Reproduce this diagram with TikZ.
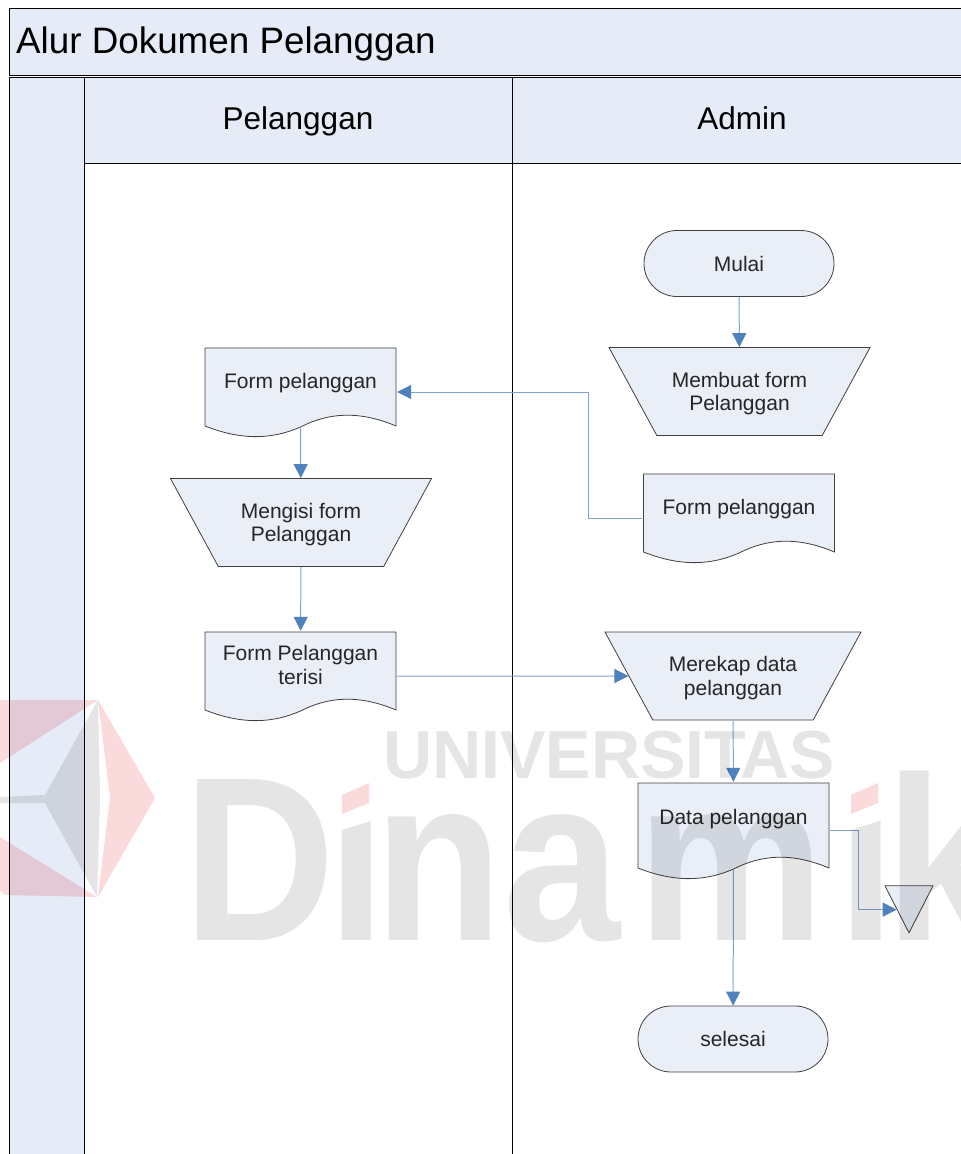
\documentclass[tikz,border=0pt]{standalone}
\usepackage{fontspec}
\setmainfont{Liberation Sans}
\newfontfamily\markfont[FakeStretch=0.9]{Liberation Sans Bold}
\usetikzlibrary{arrows.meta,shapes.geometric,shapes.misc}
\definecolor{lanefill}{HTML}{E6ECF7}
\definecolor{shapefill}{HTML}{E9EEF7}
\definecolor{flowline}{HTML}{7DA3D6}
\definecolor{flowtip}{HTML}{4F81BD}
\definecolor{markgray}{HTML}{E5E5E5}
\definecolor{markpink}{HTML}{FBDADC}
\tikzset{
    lane/.style={draw=black,line width=0.9pt,fill=lanefill},
    lanetext/.style={inner sep=0pt,anchor=base,font=\fontsize{31.5}{36}\selectfont},
    flowtext/.style={align=center,text=black!85,font=\fontsize{21}{23.5}\selectfont},
    terminator/.style={flowtext,rounded rectangle,draw=black!75,line width=0.8pt,fill=shapefill,minimum width=190pt,minimum height=66pt,inner sep=0pt},
    manualop/.style={flowtext,trapezium,shape border rotate=180,trapezium stretches body=true,trapezium left angle=39,trapezium right angle=39,draw=black!75,line width=0.8pt,fill=shapefill,minimum height=88pt,inner sep=0pt,text depth=0pt},
    docbox/.style={flowtext,minimum width=193pt,minimum height=#1+12pt,inner sep=0pt,text depth=23pt,
        path picture={
            \coordinate (pp) at (path picture bounding box.north west);
            \draw[draw=black!75,line width=0.8pt,fill=shapefill,x=1pt,y=-1pt]
                (pp) ++(1,1) -- ++(191,0) -- ++(0,#1) .. controls +(-38,-16) and +(27.5,-14) .. ++(-95.5,1) .. controls +(-27.5,12) and +(38,15) .. ++(-95.5,-1) -- cycle;
        }},
    docbox/.default=78,
    offpage/.style={isosceles triangle,shape border rotate=-90,isosceles triangle stretches=true,draw=black!75,line width=0.8pt,fill=shapefill,minimum width=48pt,minimum height=47pt,inner sep=0pt},
    flow/.style={flowline,line width=1pt,-{Triangle[length=14pt,width=14pt,color=flowtip]}},
}

\begin{document}
\begin{tikzpicture}[x=1pt,y=-1pt]
    \useasboundingbox (0,0) rectangle (961,1154);
    \clip (0,0) rectangle (961,1154);

    \draw[lane] (9.5,8.5) rectangle (975,75);
    \draw[lane] (9.5,77) rectangle (84.5,1170);
    \draw[lane] (84.5,77) rectangle (512,163.5);
    \draw[lane] (512,77) rectangle (975,163.5);
    \draw[line width=0.9pt] (84.5,163.5) -- (84.5,1170);
    \draw[line width=0.9pt] (512,163.5) -- (512,1170);
    \node[lanetext,anchor=base west,font=\fontsize{36.8}{40}\selectfont] (judul) at (16,53) {Alur Dokumen Pelanggan};
    \node[lanetext] (pelanggan) at (298,129) {Pelanggan};
    \node[lanetext] (admin) at (742,129) {Admin};

    \node[terminator] (mulai) at (739,263.5) {Mulai};
    \node[manualop,minimum width=261pt] (buat) at (739.5,391.5) {Membuat form\\Pelanggan};
    \node[docbox] (formadmin) at (739,518) {Form pelanggan};
    \node[docbox] (formcust) at (300.5,392) {Form pelanggan};
    \node[manualop,minimum width=261pt] (isi) at (301,522.5) {Mengisi form\\Pelanggan};
    \node[docbox,text depth=22pt] (terisi) at (300.5,676) {Form Pelanggan\\terisi};
    \node[manualop,minimum width=256pt] (rekap) at (733,676) {Merekap data\\pelanggan};
    \node[docbox=85,text depth=27pt] (data) at (733.5,830.5) {Data pelanggan};
    \node[offpage] (arsip) at (909,900.5) {};
    \node[terminator] (selesai) at (733,1039) {selesai};

    \draw[flow] (mulai) -- (buat);
    \draw[flow] (formadmin.west) -- ++(-54,0) |- (formcust.east);
    \draw[flow] ([yshift=11pt]formcust.south) -- (isi);
    \draw[flow] (isi) -- (terisi);
    \draw[flow] (terisi.east) -- (rekap.west);
    \draw[flow] (rekap) -- (data);
    \draw[flow] (data.east) -- ++(28,0) |- (arsip.right side);
    \draw[flow] ([yshift=11pt]data.south) -- (selesai);

    \begin{scope}[transparency group,blend mode=multiply]
        \fill[markpink] (0,700) -- (98,700) -- (0,763) -- cycle;
        \fill[markpink] (0,837) -- (97,897) -- (5,895) -- (0,890) -- cycle;
        \fill[markpink] (98,700) -- (155,798) -- (98,897) -- (110,798) -- cycle;
        \fill[markgray] (98,700) -- (45,795) -- (0,797) -- (0,803) -- (45,803) -- (97,897) -- (100,798) -- cycle;
        \node[anchor=base west,inner sep=0pt,text=markgray,font={\fontsize{68}{70}\fontspec{Liberation Sans Bold}}] (univ) at (383,778) {UNIVERSITAS};
        \node[anchor=base west,inner sep=0pt,text=markgray,font={\fontsize{234}{240}\markfont}] (dinamik) at (183,940) {D\kern-8pt i\kern-11pt na\kern17pt m\kern13pt i\kern-11pt k};
        \fill[white] (335,755) -- (380,755) -- (380,818) -- (335,832) -- cycle;
        \fill[white] (844,755) -- (889,755) -- (889,818) -- (844,832) -- cycle;
        \fill[markpink] (342,795) -- (369,783) -- (369,803) -- (342,814) -- cycle;
        \fill[markpink] (851,795) -- (878,783) -- (878,803) -- (851,814) -- cycle;
    \end{scope}
\end{tikzpicture}
\end{document}
